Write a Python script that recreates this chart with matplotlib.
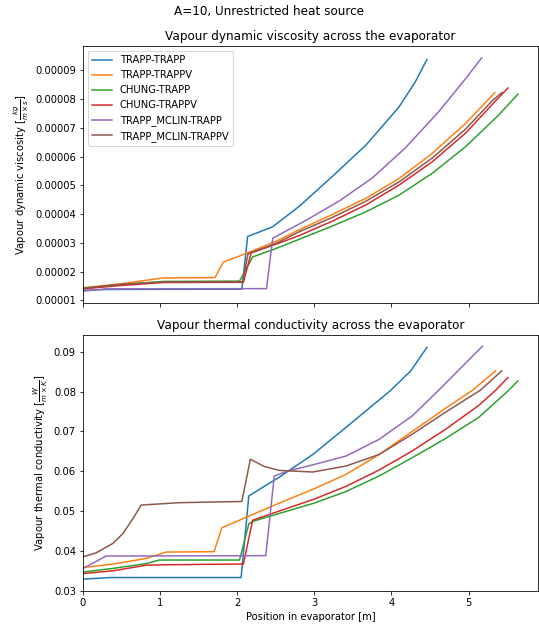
import matplotlib
matplotlib.use("Agg")
import matplotlib.pyplot as plt
from matplotlib.ticker import FormatStrFormatter, MultipleLocator

# series names (legend order)
names = ['TRAPP-TRAPP', 'TRAPP-TRAPPV', 'CHUNG-TRAPP', 'CHUNG-TRAPPV',
         'TRAPP_MCLIN-TRAPP', 'TRAPP_MCLIN-TRAPPV']

# ---- vapour dynamic viscosity [x in m, y in 1e-5 kg/(m s)] ----
visc_x_tt = [0, 0.3, 2.06, 2.135, 2.46, 2.80, 3.23, 3.67, 4.10, 4.31, 4.46]
visc_y_tt = [1.35, 1.38, 1.39, 3.22, 3.56, 4.26, 5.30, 6.40, 7.73, 8.60, 9.37]

visc_x_ttv = [0, 0.5, 1.04, 1.71, 1.82, 2.16, 2.5, 2.8, 3.23, 3.67, 4.10, 4.53, 4.96, 5.34]
visc_y_ttv = [1.44, 1.58, 1.78, 1.79, 2.33, 2.68, 3.05, 3.45, 3.98, 4.55, 5.24, 6.11, 7.15, 8.22]

visc_x_ct = [0, 0.5, 1.04, 2.03, 2.20, 2.5, 2.8, 3.23, 3.67, 4.10, 4.53, 4.96, 5.39, 5.64]
visc_y_ct = [1.42, 1.55, 1.66, 1.67, 2.51, 2.80, 3.12, 3.58, 4.08, 4.66, 5.42, 6.34, 7.44, 8.17]

visc_x_ctv = [0, 0.5, 1.04, 2.08, 2.18, 2.5, 2.8, 3.23, 3.67, 4.10, 4.53, 4.96, 5.30, 5.51]
visc_y_ctv = [1.40, 1.52, 1.62, 1.63, 2.65, 2.95, 3.25, 3.75, 4.32, 5.01, 5.82, 6.81, 7.79, 8.38]

visc_x_mt = [0, 0.3, 2.38, 2.46, 2.89, 3.32, 3.75, 4.18, 4.61, 4.96, 5.17]
visc_y_mt = [1.32, 1.40, 1.41, 3.16, 3.78, 4.45, 5.25, 6.30, 7.55, 8.70, 9.43]

visc_x_mtv = [0, 0.5, 1.04, 2.07, 2.14, 2.5, 2.8, 3.23, 3.67, 4.10, 4.53, 4.96, 5.30, 5.43]
visc_y_mtv = [1.42, 1.56, 1.64, 1.65, 2.62, 2.98, 3.38, 3.88, 4.45, 5.12, 5.95, 6.95, 7.92, 8.22]

# ---- vapour thermal conductivity [x in m, y in W/(m K)] ----
cond_x_tt = [0, 0.35, 2.05, 2.15, 2.545, 2.98, 3.41, 3.99, 4.25, 4.46]
cond_y_tt = [0.0329, 0.0333, 0.0333, 0.0538, 0.0585, 0.0642, 0.0710, 0.0803, 0.0852, 0.0911]

cond_x_ttv = [0, 0.39, 0.82, 1.08, 1.70, 1.80, 2.545, 3.0, 3.41, 3.84, 4.27, 4.7, 5.05, 5.35]
cond_y_ttv = [0.0358, 0.0367, 0.0381, 0.0397, 0.0398, 0.0458, 0.0520, 0.0556, 0.0592, 0.0642,
              0.0700, 0.0758, 0.0803, 0.0852]

cond_x_ct = [0, 0.39, 0.82, 0.99, 2.03, 2.15, 2.2, 2.545, 3.0, 3.41, 3.84, 4.27, 4.7, 5.13, 5.52, 5.64]
cond_y_ct = [0.0347, 0.0356, 0.0368, 0.0377, 0.0377, 0.0468, 0.0474, 0.0494, 0.0520, 0.0549,
             0.0588, 0.0634, 0.0682, 0.0735, 0.0803, 0.0827]

cond_x_ctv = [0, 0.39, 0.82, 1.0, 2.08, 2.2, 2.545, 3.0, 3.41, 3.84, 4.27, 4.7, 5.13, 5.35, 5.51]
cond_y_ctv = [0.0343, 0.0350, 0.0364, 0.0365, 0.0367, 0.0477, 0.0500, 0.0530, 0.0562, 0.0603,
              0.0651, 0.0705, 0.0765, 0.0803, 0.0835]

cond_x_mt = [0, 0.30, 2.37, 2.48, 2.65, 3.0, 3.41, 3.84, 4.27, 4.61, 5.18]
cond_y_mt = [0.0356, 0.0387, 0.0388, 0.0588, 0.0600, 0.0617, 0.0638, 0.0680, 0.0739, 0.0803, 0.0914]

cond_x_mtv = [0, 0.17, 0.39, 0.52, 0.65, 0.755, 1.25, 2.06, 2.17, 2.35, 2.545, 2.98, 3.41, 3.84,
              4.27, 4.70, 5.15, 5.43]
cond_y_mtv = [0.0385, 0.0395, 0.0419, 0.0444, 0.0482, 0.0515, 0.0521, 0.0524, 0.0630, 0.0612,
              0.0602, 0.0598, 0.0613, 0.0642, 0.0693, 0.0748, 0.0803, 0.0852]

visc_x = [visc_x_tt, visc_x_ttv, visc_x_ct, visc_x_ctv, visc_x_mt, visc_x_mtv]
visc_y = [visc_y_tt, visc_y_ttv, visc_y_ct, visc_y_ctv, visc_y_mt, visc_y_mtv]
cond_x = [cond_x_tt, cond_x_ttv, cond_x_ct, cond_x_ctv, cond_x_mt, cond_x_mtv]
cond_y = [cond_y_tt, cond_y_ttv, cond_y_ct, cond_y_ctv, cond_y_mt, cond_y_mtv]

colors = ['#1f77b4', '#ff7f0e', '#2ca02c', '#d62728', '#9467bd', '#8c564b']

W, H = 539, 628
fig = plt.figure(figsize=(W / 72, H / 72), dpi=72)
ax1 = fig.add_axes([83 / W, 1 - 302.7 / H, 455 / W, (302.7 - 46) / H])
ax2 = fig.add_axes([83 / W, 1 - 590.7 / H, 455 / W, (590.7 - 335) / H])

# top: viscosity
for xs, ys, c, n in zip(visc_x, visc_y, colors, names):
    ax1.plot(xs, [v * 1e-5 for v in ys], color=c, lw=1.5, label=n)
ax1.set_title('Vapour dynamic viscosity across the evaporator', fontsize=12)
ax1.set_ylabel(r'Vapour dynamic viscosity [$\frac{kg}{m \times s}$]', fontsize=10)
ax1.set_xlim(0, 5.9)
ax1.set_ylim(0.92e-5, 9.84e-5)
ax1.yaxis.set_major_locator(MultipleLocator(1e-5))
ax1.yaxis.set_major_formatter(FormatStrFormatter('%.5f'))
ax1.xaxis.set_major_locator(MultipleLocator(1))
ax1.tick_params(labelbottom=False, labelsize=10)
ax1.legend(loc='upper left', fontsize=10)

# bottom: thermal conductivity
for xs, ys, c, n in zip(cond_x, cond_y, colors, names):
    ax2.plot(xs, ys, color=c, lw=1.5, label=n)
ax2.set_title('Vapour thermal conductivity across the evaporator', fontsize=12)
ax2.set_ylabel(r'Vapour thermal conductivity [$\frac{W}{m \times K}$]', fontsize=10)
ax2.set_xlabel('Position in evaporator [m]', fontsize=10)
ax2.set_xlim(0, 5.9)
ax2.set_ylim(0.03, 0.0942)
ax2.yaxis.set_major_locator(MultipleLocator(0.01))
ax2.yaxis.set_major_formatter(FormatStrFormatter('%.2f'))
ax2.xaxis.set_major_locator(MultipleLocator(1))
ax2.tick_params(labelsize=10)

fig.suptitle('A=10, Unrestricted heat source', fontsize=12, y=1 - 12 / H, va='center')

fig.savefig('out.png', dpi=72)
